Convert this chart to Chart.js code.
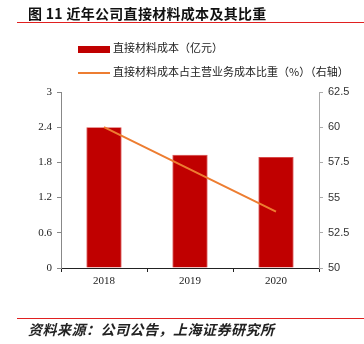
<!DOCTYPE html>
<html>
<head>
<meta charset="utf-8">
<script src="https://cdn.jsdelivr.net/npm/chart.js@4/dist/chart.umd.min.js"></script>
<style>
  body { margin: 0; background: #fff; }
  #wrap { position: relative; width: 364px; height: 344px; overflow: hidden; font-family: "Noto Sans CJK SC", sans-serif; }
  #chart { position: absolute; left: 0; top: 0; }
  .title { position: absolute; left: 28px; top: 3px; font-size: 14px; font-weight: bold; color: #111; white-space: nowrap; letter-spacing: 0.3px; }
  .rule { position: absolute; left: 17px; width: 347px; height: 1px; background: #e02020; }
  .legend { position: absolute; left: 78px; font-size: 11px; color: #222; white-space: nowrap; }
  .legend span.sw { display: inline-block; width: 32px; vertical-align: middle; margin-right: 3px; }
  .source { position: absolute; left: 28px; top: 319px; font-size: 14px; font-style: italic; font-weight: 600; color: #222; white-space: nowrap; letter-spacing: 0.5px; }
</style>
</head>
<body>
<div id="wrap">
  <canvas id="chart" width="364" height="344"></canvas>
  <div class="title">图 11 近年公司直接材料成本及其比重</div>
  <div class="rule" style="top:22px"></div>
  <div class="legend" style="top:39px"><span class="sw" style="height:7px;background:#c00000"></span>直接材料成本（亿元）</div>
  <div class="legend" style="top:63px"><span class="sw" style="height:2px;background:#ed7d31"></span>直接材料成本占主营业务成本比重（%）（右轴）</div>
  <div class="rule" style="top:318px"></div>
  <div class="source">资料来源：公司公告，上海证券研究所</div>
</div>
<script>
// Data
const years = ['2018', '2019', '2020'];
const materialCost = [2.4, 1.93, 1.89];   // 亿元
const costShare = [60, 57, 54];           // %

const leftTicks = [0, 0.6, 1.2, 1.8, 2.4, 3];
const rightTicks = [50, 52.5, 55, 57.5, 60, 62.5];

const ctx = document.getElementById('chart').getContext('2d');

new Chart(ctx, {
  data: {
    labels: years,
    datasets: [
      {
        type: 'line',
        label: '直接材料成本占主营业务成本比重（%）（右轴）',
        data: costShare,
        yAxisID: 'y1',
        borderColor: '#ed7d31',
        borderWidth: 2,
        pointRadius: 0,
        tension: 0,
        order: 0
      },
      {
        type: 'bar',
        label: '直接材料成本（亿元）',
        data: materialCost,
        yAxisID: 'y',
        backgroundColor: '#c00000',
        borderColor: '#d84848',
        borderWidth: 0.8,
        categoryPercentage: 1,
        barPercentage: 0.41,
        order: 1
      }
    ]
  },
  options: {
    responsive: false,
    animation: false,
    layout: { padding: { top: 92, left: 0, right: 0, bottom: 0 } },
    plugins: {
      legend: { display: false },
      tooltip: { enabled: false }
    },
    scales: {
      x: {
        grid: { display: true, offset: true, drawOnChartArea: false, tickLength: 4, color: '#222' },
        border: { color: '#222', width: 1 },
        ticks: { font: { family: 'Liberation Serif', size: 11 }, color: '#222', padding: 3 },
        afterFit: s => { s.height = 76; }
      },
      y: {
        position: 'left',
        min: 0,
        max: 3,
        afterBuildTicks: s => { s.ticks = leftTicks.map(v => ({ value: v })); },
        grid: { drawOnChartArea: false, tickLength: 4, color: '#888' },
        border: { color: '#888', width: 1 },
        ticks: { font: { family: 'Liberation Serif', size: 11 }, color: '#222', padding: 5, callback: v => String(v) },
        afterFit: s => { s.width = 61; }
      },
      y1: {
        position: 'right',
        min: 50,
        max: 62.5,
        afterBuildTicks: s => { s.ticks = rightTicks.map(v => ({ value: v })); },
        grid: { drawOnChartArea: false, tickLength: 4, color: '#aaa' },
        border: { color: '#aaa', width: 1 },
        ticks: { font: { family: 'Liberation Sans', size: 11 }, color: '#333', padding: 5, callback: v => String(v) },
        afterFit: s => { s.width = 45; }
      }
    }
  }
});
</script>
</body>
</html>
